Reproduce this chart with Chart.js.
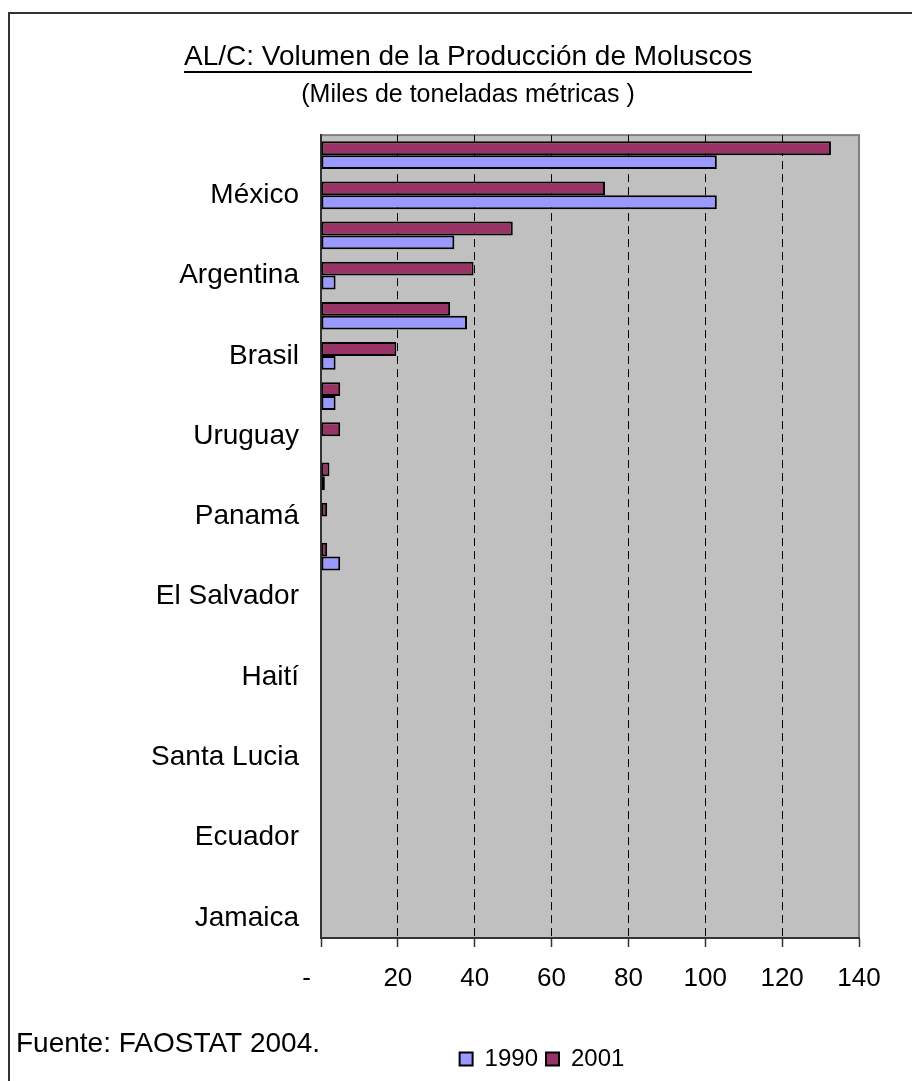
<!DOCTYPE html>
<html>
<head>
<meta charset="utf-8">
<script src="https://cdn.jsdelivr.net/npm/chart.js@4/dist/chart.umd.min.js"></script>
<style>
  html, body { margin: 0; padding: 0; background: #fff; }
  #wrap { width: 912px; height: 1081px; position: relative; }
</style>
</head>
<body>
<div id="wrap"><canvas id="moluscos"></canvas></div>
<script>
// AL/C: volumen de la producción de moluscos (miles de t)
const CATEGORIAS = ['', 'México', '', 'Argentina', '', 'Brasil', '', 'Uruguay', '', 'Panamá',
    '', 'El Salvador', '', 'Haití', '', 'Santa Lucia', '', 'Ecuador', '', 'Jamaica'];
const VALORES_2001 = [132.7, 73.9, 49.9, 39.7, 33.6, 19.6, 5.0, 5.0, 2.2, 1.6,
    1.6, 0, 0, 0, 0, 0, 0, 0, 0, 0];
const VALORES_1990 = [103.0, 103.0, 34.7, 3.8, 38.0, 3.8, 3.8, 0, 1.0, 0,
    5.0, 0, 0, 0, 0, 0, 0, 0, 0, 0];
const X_TICKS = [0, 20, 40, 60, 80, 100, 120, 140];

const TITULO = 'AL/C: Volumen de la Producción de Moluscos';
const SUBTITULO = '(Miles de toneladas métricas )';
const FUENTE = 'Fuente: FAOSTAT 2004.';

const COLORES = {
    granate: '#993366',
    lila: '#9999FF',
    plot: '#C0C0C0',
    marco: '#808080',
    eje: '#333333',
};

const FAMILIA = "'Liberation Sans', Arial, sans-serif";

Chart.defaults.font.family = FAMILIA;
Chart.defaults.color = '#000';

// fondo gris del área de trazado, marco exterior, subrayado y nota de fuente
const decoracion = {
    id: 'decoracion',
    beforeDraw(chart) {
        const { ctx, chartArea: a } = chart;
        ctx.save();
        ctx.fillStyle = COLORES.plot;
        ctx.fillRect(a.left, a.top, a.right - a.left, a.bottom - a.top);
        ctx.strokeStyle = COLORES.marco;
        ctx.lineWidth = 2;
        ctx.strokeRect(a.left, a.top, a.right - a.left, a.bottom - a.top);
        // marco exterior (sólo arriba e izquierda quedan en la imagen)
        ctx.strokeStyle = COLORES.eje;
        ctx.lineWidth = 2;
        ctx.beginPath();
        ctx.moveTo(912, 13);
        ctx.lineTo(9, 13);
        ctx.lineTo(9, 1081);
        ctx.stroke();
        ctx.restore();
    },
    afterDraw(chart) {
        const { ctx } = chart;
        const tb = chart.titleBlock;
        const tOpts = chart.options.plugins.title;
        const size = tOpts.font.size;
        ctx.save();
        ctx.font = `${size}px ${FAMILIA}`;
        const w = ctx.measureText(TITULO).width;
        const cx = (tb.left + tb.right) / 2;
        const mid = tb.top + tOpts.padding.top + size * 1.2 / 2;
        const yLine = Math.round(mid + size * 0.35 + 5);
        ctx.strokeStyle = '#000';
        ctx.lineWidth = 2;
        ctx.beginPath();
        ctx.moveTo(cx - w / 2, yLine);
        ctx.lineTo(cx + w / 2, yLine);
        ctx.stroke();

        ctx.fillStyle = '#000';
        ctx.textAlign = 'left';
        ctx.textBaseline = 'alphabetic';
        ctx.font = `28px ${FAMILIA}`;
        ctx.fillText(FUENTE, 16, 1052);
        ctx.restore();
    },
    afterLayout(chart) {
        // la leyenda de Excel está centrada bajo el área de trazado
        const lg = chart.legend;
        if (lg) {
            const dx = 74;
            lg.left += dx;
            lg.right += dx;
        }
    }
};

new Chart(document.getElementById('moluscos'), {
    type: 'bar',
    data: {
        labels: CATEGORIAS,
        datasets: [
            {
                label: '2001',
                data: VALORES_2001,
                backgroundColor: COLORES.granate,
                borderColor: '#000',
                borderWidth: 2,
                borderSkipped: false,
                categoryPercentage: 0.69,
                barPercentage: 1.0,
            },
            {
                label: '1990',
                data: VALORES_1990,
                backgroundColor: COLORES.lila,
                borderColor: '#000',
                borderWidth: 2,
                borderSkipped: false,
                categoryPercentage: 0.69,
                barPercentage: 1.0,
            }
        ]
    },
    options: {
        indexAxis: 'y',
        responsive: true,
        maintainAspectRatio: false,
        animation: false,
        layout: { padding: { left: 77, right: 53, top: 20, bottom: 0 } },
        plugins: {
            title: {
                display: true,
                text: TITULO,
                color: '#000',
                font: { size: 28, weight: 'normal' },
                padding: { top: 20, bottom: 0 },
            },
            subtitle: {
                display: true,
                text: SUBTITULO,
                color: '#000',
                font: { size: 25, weight: 'normal' },
                padding: { top: 7, bottom: 24.5 },
            },
            legend: {
                position: 'bottom',
                reverse: true,
                labels: {
                    boxWidth: 13,
                    boxHeight: 13,
                    padding: 8,
                    color: '#000',
                    font: { size: 24 },
                }
            },
            tooltip: { enabled: false }
        },
        scales: {
            x: {
                min: 0,
                max: 140,
                afterBuildTicks: scale => {
                    scale.ticks = X_TICKS.map(v => ({ value: v }));
                },
                afterFit: scale => { scale.height = 101; },
                ticks: {
                    autoSkip: false,
                    maxRotation: 0,
                    padding: 16,
                    color: '#000',
                    font: { size: 26 },
                    callback: v => (v === 0 ? '-    ' : String(v)),
                },
                grid: {
                    color: c => (c.tick && (c.tick.value === 0 || c.tick.value === 140)) ? 'rgba(0,0,0,0)' : '#000',
                    lineWidth: 1,
                    tickLength: 9,
                    tickColor: COLORES.eje,
                    tickWidth: 1.5,
                    tickBorderDash: [],
                },
                border: {
                    display: true,
                    color: COLORES.eje,
                    width: 2,
                    dash: [8, 5],
                },
            },
            y: {
                afterFit: scale => { scale.width = 321 - 77; },
                ticks: {
                    autoSkip: false,
                    padding: 22,
                    color: '#000',
                    font: { size: 28 },
                },
                grid: {
                    display: true,
                    drawOnChartArea: false,
                    drawTicks: false,
                },
                border: {
                    display: true,
                    color: COLORES.eje,
                    width: 2,
                },
            }
        }
    },
    plugins: [decoracion]
});
</script>
</body>
</html>
